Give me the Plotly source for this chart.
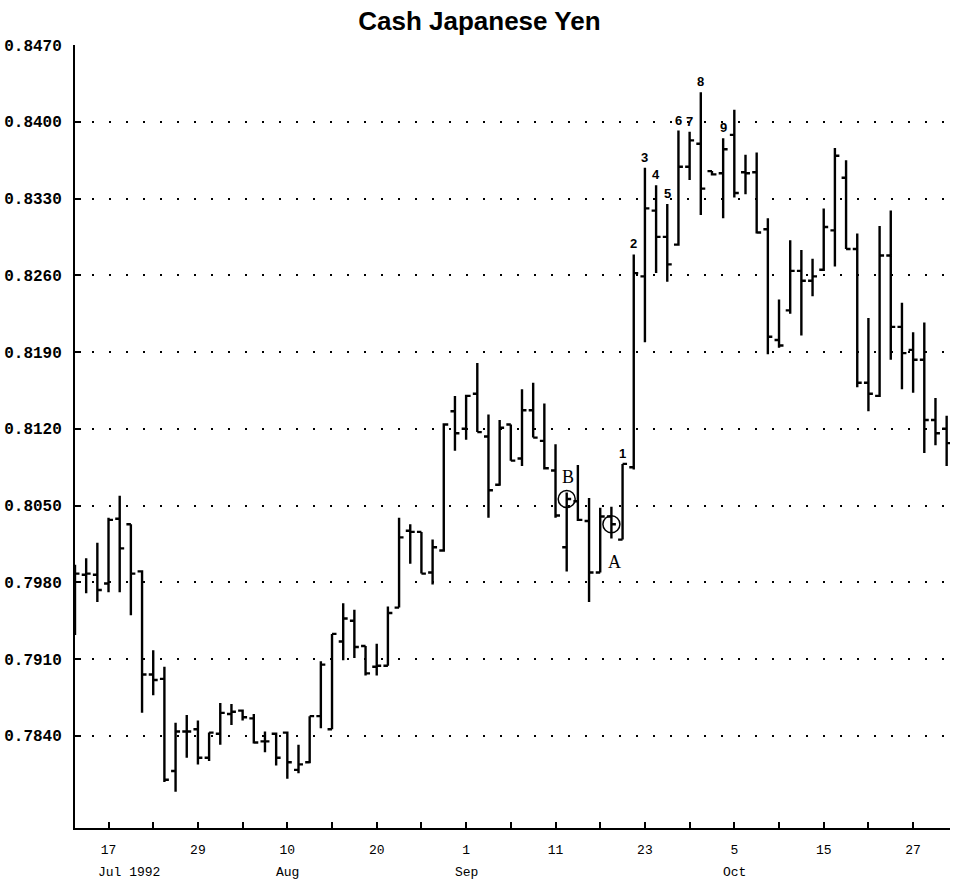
import plotly.graph_objects as go

# trading days, Jul 14 - Oct 30 1992
jul = [14, 15, 16, 17, 20, 21, 22, 23, 24, 27, 28, 29, 30, 31]
aug = [3, 4, 5, 6, 7, 10, 11, 12, 13, 14, 17, 18, 19, 20, 21, 24, 25, 26, 27, 28, 31]
sep = [1, 2, 3, 4, 7, 8, 9, 10, 11, 14, 15, 16, 17, 18, 21, 22, 23, 24, 25, 28, 29, 30]
octo = [1, 2, 5, 6, 7, 8, 9, 12, 13, 14, 15, 16, 19, 20, 21, 22, 23, 26, 27, 28, 29, 30]
dates = (['1992-07-%02d' % d for d in jul] + ['1992-08-%02d' % d for d in aug]
         + ['1992-09-%02d' % d for d in sep] + ['1992-10-%02d' % d for d in octo])

opens = [0.7985, 0.7987, 0.7987, 0.7979, 0.8038, 0.8033, 0.7990, 0.7896, 0.7892, 0.7808,
         0.7844, 0.7846, 0.7820, 0.7842, 0.7860, 0.7863, 0.7856, 0.7835, 0.7842, 0.7843,
         0.7809, 0.7816, 0.7858, 0.7846, 0.7926, 0.7945, 0.7922, 0.7903, 0.7904, 0.7957,
         0.8027, 0.8026, 0.7989, 0.8009, 0.8136, 0.8120, 0.8152, 0.8113, 0.8069, 0.8124,
         0.8093, 0.8137, 0.8109, 0.8082, 0.8012, 0.8054, 0.8036, 0.7989, 0.8040, 0.8019,
         0.8085, 0.8259, 0.8319, 0.8295, 0.8288, 0.8359, 0.8380, 0.8355, 0.8353, 0.8388,
         0.8354, 0.8354, 0.8302, 0.8201, 0.8228, 0.8264, 0.8255, 0.8265, 0.8301, 0.8349,
         0.8284, 0.8162, 0.8150, 0.8278, 0.8213, 0.8192, 0.8183, 0.8128, 0.8120]
highs = [0.7996, 0.8002, 0.8016, 0.8039, 0.8059, 0.8033, 0.7991, 0.7918, 0.7903, 0.7852,
         0.7859, 0.7854, 0.7843, 0.7870, 0.7869, 0.7864, 0.7860, 0.7844, 0.7843, 0.7844,
         0.7832, 0.7858, 0.7908, 0.7933, 0.7961, 0.7955, 0.7922, 0.7924, 0.7958, 0.8039,
         0.8033, 0.8026, 0.8019, 0.8125, 0.8150, 0.8151, 0.8180, 0.8133, 0.8128, 0.8124,
         0.8156, 0.8162, 0.8143, 0.8106, 0.8062, 0.8087, 0.8057, 0.8048, 0.8049, 0.8088,
         0.8279, 0.8358, 0.8342, 0.8325, 0.8392, 0.8391, 0.8427, 0.8355, 0.8385, 0.8411,
         0.8370, 0.8372, 0.8312, 0.8238, 0.8292, 0.8283, 0.8275, 0.8321, 0.8376, 0.8365,
         0.8298, 0.8221, 0.8305, 0.8319, 0.8235, 0.8208, 0.8217, 0.8148, 0.8132]
lows = [0.7932, 0.7970, 0.7962, 0.7971, 0.7971, 0.7950, 0.7861, 0.7877, 0.7798, 0.7789,
        0.7820, 0.7814, 0.7817, 0.7832, 0.7850, 0.7854, 0.7833, 0.7825, 0.7813, 0.7801,
        0.7806, 0.7815, 0.7847, 0.7846, 0.7909, 0.7911, 0.7895, 0.7895, 0.7904, 0.7957,
        0.7997, 0.7988, 0.7978, 0.8008, 0.8100, 0.8110, 0.8117, 0.8039, 0.8068, 0.8091,
        0.8086, 0.8112, 0.8083, 0.8039, 0.7990, 0.8036, 0.7962, 0.7989, 0.8020, 0.8019,
        0.8083, 0.8199, 0.8262, 0.8254, 0.8287, 0.8347, 0.8315, 0.8351, 0.8312, 0.8331,
        0.8334, 0.8298, 0.8188, 0.8194, 0.8225, 0.8205, 0.8241, 0.8264, 0.8268, 0.8284,
        0.8158, 0.8136, 0.8149, 0.8183, 0.8156, 0.8153, 0.8098, 0.8105, 0.8086]
closes = [0.7988, 0.7988, 0.7973, 0.8037, 0.8011, 0.7988, 0.7896, 0.7891, 0.7800, 0.7844,
          0.7844, 0.7820, 0.7843, 0.7861, 0.7862, 0.7857, 0.7834, 0.7835, 0.7820, 0.7816,
          0.7814, 0.7858, 0.7905, 0.7933, 0.7947, 0.7921, 0.7897, 0.7904, 0.7952, 0.8021,
          0.8026, 0.7988, 0.8012, 0.8124, 0.8116, 0.8150, 0.8117, 0.8064, 0.8121, 0.8091,
          0.8137, 0.8112, 0.8084, 0.8041, 0.8056, 0.8037, 0.7989, 0.8040, 0.8033, 0.8088,
          0.8262, 0.8321, 0.8295, 0.8270, 0.8359, 0.8383, 0.8339, 0.8352, 0.8375, 0.8335,
          0.8353, 0.8299, 0.8204, 0.8196, 0.8264, 0.8255, 0.8259, 0.8304, 0.8369, 0.8284,
          0.8162, 0.8152, 0.8278, 0.8213, 0.8189, 0.8183, 0.8128, 0.8116, 0.8107]

y_ticks = [0.7840, 0.7910, 0.7980, 0.8050, 0.8120, 0.8190, 0.8260, 0.8330, 0.8400, 0.8470]

# x ticks every 4 trading days, label every other one
x_tick_dates = ['1992-07-17', '1992-07-23', '1992-07-29', '1992-08-04', '1992-08-10',
                '1992-08-14', '1992-08-20', '1992-08-26', '1992-09-01', '1992-09-07',
                '1992-09-11', '1992-09-17', '1992-09-23', '1992-09-29', '1992-10-05',
                '1992-10-09', '1992-10-15', '1992-10-21', '1992-10-27']
x_tick_text = ['17', '', '29', '', '10', '', '20', '', '1', '', '11', '', '23', '', '5',
               '', '15', '', '27']
month_dates = ['1992-07-17', '1992-08-10', '1992-09-01', '1992-10-05']
month_text = ['Jul 1992', 'Aug', 'Sep', 'Oct']

wave_labels = ['1', '2', '3', '4', '5', '6', '7', '8', '9']
wave_dates = ['1992-09-21', '1992-09-22', '1992-09-23', '1992-09-24', '1992-09-25',
              '1992-09-28', '1992-09-29', '1992-09-30', '1992-10-02']
circle_dates = ['1992-09-14', '1992-09-18']
circle_labels = ['B', 'A']

fig = go.Figure()
fig.add_trace(go.Ohlc(
    x=dates, open=opens, high=highs, low=lows, close=closes,
    increasing=dict(line=dict(color='black', width=2.4)),
    decreasing=dict(line=dict(color='black', width=2.4)),
    tickwidth=0.4, hoverinfo='skip'))

ci = [dates.index(d) for d in circle_dates]
fig.add_trace(go.Scatter(
    x=circle_dates, y=[closes[i] for i in ci], mode='markers',
    marker=dict(symbol='circle-open', size=17, color='black', line=dict(width=1.5)),
    hoverinfo='skip'))

anns = []
for lab, d in zip(wave_labels, wave_dates):
    i = dates.index(d)
    anns.append(dict(x=d, y=highs[i], xref='x', yref='y', text='<b>%s</b>' % lab,
                     showarrow=False, yanchor='bottom', yshift=1,
                     font=dict(family='Liberation Sans', size=13, color='black')))
# B above the bar, A below
anns.append(dict(x=circle_dates[0], y=highs[ci[0]], xref='x', yref='y', text='B',
                 showarrow=False, yanchor='bottom', yshift=3, xshift=1,
                 font=dict(family='Liberation Serif', size=18, color='black')))
anns.append(dict(x=circle_dates[1], y=lows[ci[1]], xref='x', yref='y', text='A',
                 showarrow=False, yanchor='top', yshift=-12, xshift=3,
                 font=dict(family='Liberation Serif', size=18, color='black')))
for d, t in zip(month_dates, month_text):
    anns.append(dict(x=d, y=-0.057, xref='x', yref='paper', text=t, showarrow=False,
                     xanchor='left', yanchor='middle', xshift=-13,
                     font=dict(family='Liberation Mono', size=13, color='black')))

fig.update_layout(
    width=953, height=884,
    margin=dict(l=75, r=3, t=45, b=56),
    plot_bgcolor='white', paper_bgcolor='white',
    showlegend=False,
    title=dict(text='<b>Cash Japanese Yen</b>', x=0.503, xref='container', xanchor='center',
               y=1 - 21 / 884, yref='container', yanchor='middle',
               font=dict(family='Liberation Sans', size=26, color='black')),
    annotations=anns,
)
fig.update_xaxes(
    type='category', range=[0, 78.3], rangeslider_visible=False, automargin=False,
    tickmode='array', tickvals=x_tick_dates, ticktext=x_tick_text,
    ticks='inside', ticklen=6, tickwidth=1.5, tickcolor='black',
    showline=True, linecolor='black', linewidth=2, showgrid=False,
    ticklabelstandoff=8,
    tickfont=dict(family='Liberation Mono', size=13, color='black'))
fig.update_yaxes(
    range=[0.7756, 0.8470], tickmode='array', tickvals=y_ticks, tickformat='.4f',
    automargin=False,
    ticks='inside', ticklen=6, tickwidth=2, tickcolor='black',
    showline=True, linecolor='black', linewidth=2, zeroline=False,
    showgrid=True, gridcolor='black', gridwidth=1.5, griddash='2px,15px',
    ticklabelstandoff=8,
    tickfont=dict(family='Liberation Mono', size=16, color='black', weight='bold'))

# drop the default body margin so the figure sits at the page corner
fig.write_html('out.html', config={'displayModeBar': False},
               post_script="document.body.style.margin='0';")
